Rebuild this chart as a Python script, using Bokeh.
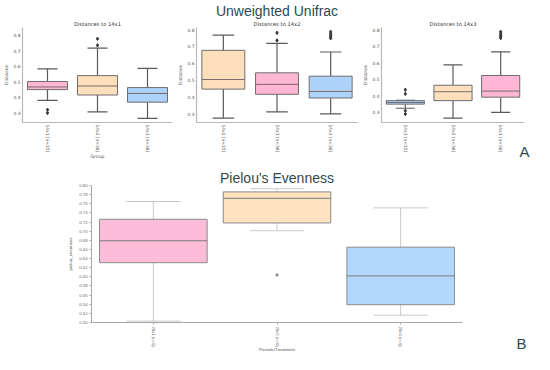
from bokeh.plotting import figure
from bokeh.models import FactorRange, Range1d, Title, ColumnDataSource, FixedTicker, NumeralTickFormatter
from bokeh.layouts import column, row
from bokeh.transform import dodge
from bokeh.embed import file_html
from bokeh.resources import INLINE

# ---------------- data ----------------
# Panel A1: distances to 14x1
cats_1 = ["14x1 (n=15)", "14x2 (n=36)", "14x3 (n=36)"]
low_1 = [0.381, 0.306, 0.264]
q1_1 = [0.450, 0.415, 0.369]
med_1 = [0.467, 0.473, 0.425]
q3_1 = [0.502, 0.540, 0.463]
high_1 = [0.583, 0.717, 0.587]
out_cat_1 = ["14x1 (n=15)", "14x1 (n=15)", "14x2 (n=36)", "14x2 (n=36)"]
out_val_1 = [0.320, 0.300, 0.735, 0.777]

# Panel A2: distances to 14x2
cats_2 = ["14x2 (n=15)", "14x1 (n=36)", "14x3 (n=36)"]
low_2 = [0.273, 0.310, 0.298]
q1_2 = [0.446, 0.415, 0.393]
med_2 = [0.503, 0.474, 0.432]
q3_2 = [0.677, 0.543, 0.523]
high_2 = [0.768, 0.719, 0.667]
out_cat_2 = ["14x1 (n=36)", "14x1 (n=36)", "14x3 (n=36)", "14x3 (n=36)",
             "14x3 (n=36)", "14x3 (n=36)", "14x3 (n=36)"]
out_val_2 = [0.736, 0.781, 0.749, 0.757, 0.766, 0.776, 0.787]

# Panel A3: distances to 14x3
cats_3 = ["14x3 (n=15)", "14x2 (n=36)", "14x1 (n=36)"]
low_3 = [0.325, 0.265, 0.300]
q1_3 = [0.350, 0.371, 0.392]
med_3 = [0.360, 0.425, 0.429]
q3_3 = [0.371, 0.464, 0.523]
high_3 = [0.373, 0.587, 0.666]
out_cat_3 = ["14x3 (n=15)", "14x3 (n=15)", "14x3 (n=15)", "14x3 (n=15)",
             "14x1 (n=36)", "14x1 (n=36)", "14x1 (n=36)", "14x1 (n=36)", "14x1 (n=36)"]
out_val_3 = [0.437, 0.412, 0.310, 0.290, 0.749, 0.757, 0.766, 0.776, 0.787]

# Panel B: Pielou's evenness
cats_b = ["28x1 (n=6)", "28x2 (n=6)", "28x3 (n=6)"]
low_b = [0.503, 0.701, 0.516]
q1_b = [0.631, 0.718, 0.539]
med_b = [0.679, 0.772, 0.602]
q3_b = [0.726, 0.786, 0.665]
high_b = [0.765, 0.793, 0.751]
out_cat_b = ["28x2 (n=6)"]
out_val_b = [0.604]
ticks_b = [0.50, 0.52, 0.54, 0.56, 0.58, 0.60, 0.62, 0.64, 0.66, 0.68,
           0.70, 0.72, 0.74, 0.76, 0.78, 0.80]
ticks_top = [0.3, 0.4, 0.5, 0.6, 0.7, 0.8]

# ---------------- styles ----------------
group_color = {"14x1": "#fdb6d4", "14x2": "#fde0bb", "14x3": "#add3fb",
               "28x1": "#fdbdd9", "28x2": "#fee3c1", "28x3": "#b3d8fd"}
TITLE_COL = "#2c4a50"
FONT = "DejaVu Sans"
BIGFONT = "Liberation Sans"


def draw_boxes(p, cats, low, q1, med, q3, high, out_cat, out_val, box_w, cap_w,
               box_line, whisk_col, med_col, out_col, out_marker, out_size, whisk_w=1.0):
    fills = [group_color[c[:4]] for c in cats]
    src = ColumnDataSource(dict(cat=cats, low=low, q1=q1, med=med, q3=q3, high=high, fill=fills))
    p.segment(x0="cat", x1="cat", y0="q3", y1="high", source=src, line_color=whisk_col, line_width=whisk_w)
    p.segment(x0="cat", x1="cat", y0="low", y1="q1", source=src, line_color=whisk_col, line_width=whisk_w)
    p.segment(x0=dodge("cat", -cap_w / 2, range=p.x_range), x1=dodge("cat", cap_w / 2, range=p.x_range),
              y0="high", y1="high", source=src, line_color=whisk_col, line_width=whisk_w)
    p.segment(x0=dodge("cat", -cap_w / 2, range=p.x_range), x1=dodge("cat", cap_w / 2, range=p.x_range),
              y0="low", y1="low", source=src, line_color=whisk_col, line_width=whisk_w)
    p.vbar(x="cat", width=box_w, bottom="q1", top="q3", source=src,
           fill_color="fill", line_color=box_line, line_width=1)
    p.segment(x0=dodge("cat", -box_w / 2, range=p.x_range), x1=dodge("cat", box_w / 2, range=p.x_range),
              y0="med", y1="med", source=src, line_color=med_col, line_width=1)
    p.scatter(x=out_cat, y=out_val, marker=out_marker, size=out_size,
              fill_color=out_col, line_color=out_col)


def top_panel(cats, low, q1, med, q3, high, out_cat, out_val, title, yr, width, bl, br):
    p = figure(width=width, height=166, x_range=FactorRange(factors=cats, range_padding=0),
               y_range=Range1d(*yr), output_backend="svg", toolbar_location=None,
               min_border_left=bl, min_border_right=br, min_border_top=22, min_border_bottom=44)
    p.outline_line_color = None
    p.grid.visible = False
    draw_boxes(p, cats, low, q1, med, q3, high, out_cat, out_val, 0.8, 0.4,
               "#6e6e6e", "#5a5a5a", "#7a6a6a", "#3a3a3a", "diamond", 3.5, 1.2)
    for ax in (p.xaxis, p.yaxis):
        ax.axis_line_color = "#b8b8b8"
        ax.axis_line_width = 1.2
        ax.major_tick_line_color = None
        ax.major_tick_out = 0
        ax.major_tick_in = 0
        ax.minor_tick_line_color = None
        ax.major_label_text_font = FONT
        ax.major_label_text_font_size = "4.4px"
        ax.major_label_text_color = "#555555"
        ax.axis_label_text_font = FONT
        ax.axis_label_text_font_size = "4.6px"
        ax.axis_label_text_font_style = "normal"
        ax.axis_label_text_color = "#555555"
        ax.major_label_standoff = 2
        ax.axis_label_standoff = 2
    p.yaxis.ticker = FixedTicker(ticks=ticks_top)
    p.yaxis.axis_label = "Distance"
    p.xaxis.major_label_orientation = "vertical"
    p.add_layout(Title(text=title, align="center", text_font=FONT, text_font_size="5.2px",
                       text_font_style="normal", text_color="#333333", standoff=1), "above")
    return p


p1 = top_panel(cats_1, low_1, q1_1, med_1, q3_1, high_1, out_cat_1, out_val_1,
               "Distances to 14x1", (0.238, 0.85), 174, 16, 2)
p2 = top_panel(cats_2, low_2, q1_2, med_2, q3_2, high_2, out_cat_2, out_val_2,
               "Distances to 14x2", (0.247, 0.813), 185, 14, 2)
p3 = top_panel(cats_3, low_3, q1_3, med_3, q3_3, high_3, out_cat_3, out_val_3,
               "Distances to 14x3", (0.239, 0.813), 175, 11, 10)

# x-axis label of the first panel
p1.xaxis.axis_label = "Group"
p1.xaxis.axis_label_standoff = -1

# panel letter "A" carried as the x-axis label of the third panel, at its right end
p3.xaxis.axis_label = "A"
p3.xaxis.axis_label_align = "end"
p3.xaxis.axis_label_text_font = BIGFONT
p3.xaxis.axis_label_text_font_size = "15px"
p3.xaxis.axis_label_text_color = TITLE_COL
p3.xaxis.axis_label_standoff = -12

p2.add_layout(Title(text="Unweighted Unifrac", align="center", offset=4, text_font=BIGFONT,
                    text_font_size="14px", text_font_style="normal", text_color=TITLE_COL,
                    standoff=0), "above")

# ---------------- bottom panel ----------------
pb = figure(width=508, height=188, x_range=FactorRange(factors=cats_b, range_padding=0),
            y_range=Range1d(0.50, 0.80), output_backend="svg", toolbar_location=None,
            min_border_left=91, min_border_right=46, min_border_top=19, min_border_bottom=24)
pb.outline_line_color = None
pb.grid.visible = False
draw_boxes(pb, cats_b, low_b, q1_b, med_b, q3_b, high_b, out_cat_b, out_val_b, 0.87, 0.44,
           "#8a8a8a", "#c8c8c8", "#7a7a7a", "#9a9a9a", "circle", 2.5, 1.0)
for ax in (pb.xaxis, pb.yaxis):
    ax.axis_line_color = "#a8a8a8"
    ax.major_tick_line_color = "#a8a8a8"
    ax.major_tick_out = 2
    ax.major_tick_in = 0
    ax.minor_tick_line_color = None
    ax.major_label_text_font = BIGFONT
    ax.major_label_text_font_size = "4.2px"
    ax.major_label_text_color = "#666666"
    ax.axis_label_text_font = BIGFONT
    ax.axis_label_text_font_size = "4.4px"
    ax.axis_label_text_font_style = "normal"
    ax.axis_label_text_color = "#555555"
    ax.major_label_standoff = 2
    ax.axis_label_standoff = 3
pb.yaxis.ticker = FixedTicker(ticks=ticks_b)
pb.yaxis.formatter = NumeralTickFormatter(format="0.00")
pb.yaxis.axis_label = "pielou_evenness"
pb.xaxis.axis_label = "Periods/Treatment"
pb.xaxis.axis_label_standoff = -3
pb.xaxis.major_label_orientation = "vertical"
pb.add_layout(Title(text="Pielou's Evenness", align="center", text_font=BIGFONT,
                    text_font_size="14px", text_font_style="normal", text_color=TITLE_COL,
                    standoff=0), "above")

# narrow side panel whose tick-less x-axis label is the panel letter "B"
pB = figure(width=26, height=188, x_range=Range1d(0, 1), y_range=Range1d(0, 1),
            output_backend="svg", toolbar_location=None, min_border=0)
pB.yaxis.visible = False
pB.grid.visible = False
pB.outline_line_color = None
pB.xaxis.ticker = FixedTicker(ticks=[])
pB.xaxis.axis_line_color = None
pB.xaxis.major_tick_out = 0
pB.xaxis.major_label_standoff = 0
pB.xaxis.axis_label = "B"
pB.xaxis.axis_label_text_font = BIGFONT
pB.xaxis.axis_label_text_font_size = "15px"
pB.xaxis.axis_label_text_font_style = "normal"
pB.xaxis.axis_label_text_color = TITLE_COL
pB.xaxis.axis_label_standoff = 12

layout = column(row(p1, p2, p3, spacing=0), row(pb, pB, spacing=0), spacing=0)
open("out.html", "w").write(file_html(layout, INLINE))
